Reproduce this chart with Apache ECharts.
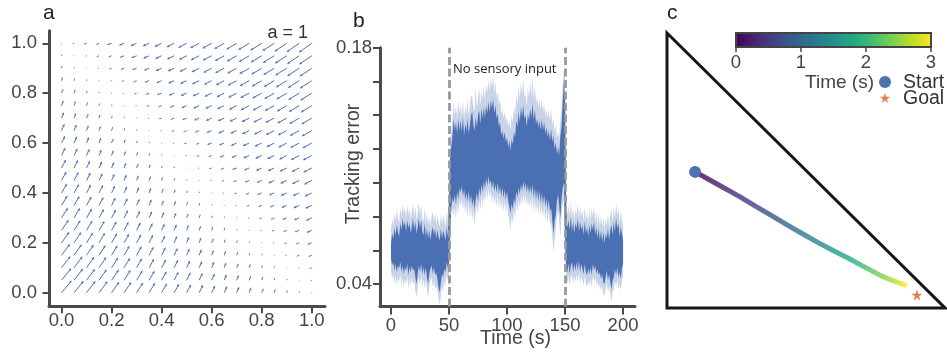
<!DOCTYPE html>
<html><head><meta charset="utf-8">
<script src="https://cdn.jsdelivr.net/npm/echarts@6/dist/echarts.min.js"></script>
<style>html,body{margin:0;padding:0;background:#fff}#c{width:947px;height:354px}</style>
</head><body><div id="c"></div>
<script>
// ---------- Panel a: quiver field (components in thousandths of axis units) ----------
const quiverX = [0,0.05,0.1,0.15,0.2,0.25,0.3,0.35,0.4,0.45,0.5,0.55,0.6,0.65,0.7,0.75,0.8,0.85,0.9,0.95,1];
const quiverY = [0,0.05,0.1,0.15,0.2,0.25,0.3,0.35,0.4,0.45,0.5,0.55,0.6,0.65,0.7,0.75,0.8,0.85,0.9,0.95,1];
const quiverU = [
[41,39,36,34,31,29,26,24,22,20,18,16,14,12,10,8,7,5,3,2,0],
[39,36,34,31,29,26,24,22,20,18,16,14,12,10,8,7,5,3,2,0,-6],
[36,34,31,29,26,24,22,20,18,16,14,12,10,8,7,5,3,2,0,-6,-11],
[34,31,29,26,24,22,20,18,16,14,12,10,8,7,5,3,2,0,-6,-11,-14],
[31,29,26,24,22,20,18,16,14,12,10,8,7,5,3,2,0,-6,-11,-14,-18],
[29,26,24,22,20,18,16,14,12,10,8,7,5,3,2,0,-6,-11,-14,-18,-21],
[26,24,22,20,18,16,14,12,10,8,7,5,3,2,0,-6,-11,-14,-18,-21,-24],
[24,22,20,18,16,14,12,10,8,7,5,3,2,0,-6,-11,-14,-18,-21,-24,-26],
[22,20,18,16,14,12,10,8,7,5,3,2,0,-6,-11,-14,-18,-21,-24,-26,-29],
[20,18,16,14,12,10,8,7,5,3,2,0,-6,-11,-14,-18,-21,-24,-26,-29,-31],
[18,16,14,12,10,8,7,5,3,2,0,-6,-11,-14,-18,-21,-24,-26,-29,-31,-34],
[16,14,12,10,8,7,5,3,2,0,-6,-11,-14,-18,-21,-24,-26,-29,-31,-34,-36],
[14,12,10,8,7,5,3,2,0,-6,-11,-14,-18,-21,-24,-26,-29,-31,-34,-36,-38],
[12,10,8,7,5,3,2,0,-6,-11,-14,-18,-21,-24,-26,-29,-31,-34,-36,-38,-40],
[10,8,7,5,3,2,0,-6,-11,-14,-18,-21,-24,-26,-29,-31,-34,-36,-38,-40,-42],
[8,7,5,3,2,0,-6,-11,-14,-18,-21,-24,-26,-29,-31,-34,-36,-38,-40,-42,-44],
[7,5,3,2,0,-6,-11,-14,-18,-21,-24,-26,-29,-31,-34,-36,-38,-40,-42,-44,-46],
[5,3,2,0,-6,-11,-14,-18,-21,-24,-26,-29,-31,-34,-36,-38,-40,-42,-44,-46,-48],
[3,2,0,-6,-11,-14,-18,-21,-24,-26,-29,-31,-34,-36,-38,-40,-42,-44,-46,-48,-49],
[2,0,-6,-11,-14,-18,-21,-24,-26,-29,-31,-34,-36,-38,-40,-42,-44,-46,-48,-49,-51],
[0,-6,-11,-14,-18,-21,-24,-26,-29,-31,-34,-36,-38,-40,-42,-44,-46,-48,-49,-51,-52]];
const quiverV = [
[49,48,47,46,44,43,41,40,38,36,34,32,29,27,24,21,18,15,11,7,0],
[48,47,46,44,43,41,40,38,36,34,32,29,27,24,21,18,15,11,7,0,-2],
[47,46,44,43,41,40,38,36,34,32,29,27,24,21,18,15,11,7,0,-2,-4],
[46,44,43,41,40,38,36,34,32,29,27,24,21,18,15,11,7,0,-2,-4,-6],
[44,43,41,40,38,36,34,32,29,27,24,21,18,15,11,7,0,-2,-4,-6,-7],
[43,41,40,38,36,34,32,29,27,24,21,18,15,11,7,0,-2,-4,-6,-7,-9],
[41,40,38,36,34,32,29,27,24,21,18,15,11,7,0,-2,-4,-6,-7,-9,-11],
[40,38,36,34,32,29,27,24,21,18,15,11,7,0,-2,-4,-6,-7,-9,-11,-12],
[38,36,34,32,29,27,24,21,18,15,11,7,0,-2,-4,-6,-7,-9,-11,-12,-14],
[36,34,32,29,27,24,21,18,15,11,7,0,-2,-4,-6,-7,-9,-11,-12,-14,-16],
[34,32,29,27,24,21,18,15,11,7,0,-2,-4,-6,-7,-9,-11,-12,-14,-16,-18],
[32,29,27,24,21,18,15,11,7,0,-2,-4,-6,-7,-9,-11,-12,-14,-16,-18,-19],
[29,27,24,21,18,15,11,7,0,-2,-4,-6,-7,-9,-11,-12,-14,-16,-18,-19,-21],
[27,24,21,18,15,11,7,0,-2,-4,-6,-7,-9,-11,-12,-14,-16,-18,-19,-21,-23],
[24,21,18,15,11,7,0,-2,-4,-6,-7,-9,-11,-12,-14,-16,-18,-19,-21,-23,-25],
[21,18,15,11,7,0,-2,-4,-6,-7,-9,-11,-12,-14,-16,-18,-19,-21,-23,-25,-27],
[18,15,11,7,0,-2,-4,-6,-7,-9,-11,-12,-14,-16,-18,-19,-21,-23,-25,-27,-29],
[15,11,7,0,-2,-4,-6,-7,-9,-11,-12,-14,-16,-18,-19,-21,-23,-25,-27,-29,-31],
[11,7,0,-2,-4,-6,-7,-9,-11,-12,-14,-16,-18,-19,-21,-23,-25,-27,-29,-31,-33],
[7,0,-2,-4,-6,-7,-9,-11,-12,-14,-16,-18,-19,-21,-23,-25,-27,-29,-31,-33,-35],
[0,-2,-4,-6,-7,-9,-11,-12,-14,-16,-18,-19,-21,-23,-25,-27,-29,-31,-33,-35,-37]];
const ticksA = [0,0.2,0.4,0.6,0.8,1.0];

// ---------- Panel b: tracking error (thousandths), one sample per second 0..200 ----------
const timeTicks = [0,50,100,150,200];
const errorTicks = [0.04,0.06,0.08,0.10,0.12,0.14,0.16,0.18];
const errorLabels = [0.04,0.18];
const switchTimes = [50,150];
const darkHi = [64,70,67,73,69,75,71,68,76,72,79,74,77,71,78,73,76,70,74,79,72,77,70,74,79,73,78,71,69,76,68,73,67,72,66,71,74,69,73,67,72,68,66,73,67,72,69,66,74,68,
90,118,121,128,138,131,136,129,138,131,137,130,139,128,135,131,138,129,134,140,142,134,131,139,133,140,143,135,144,138,145,138,146,141,148,142,149,144,150,141,
146,138,141,133,136,128,131,126,130,124,127,121,125,119,126,123,130,127,137,133,142,136,145,139,146,138,140,133,141,137,144,139,147,137,143,135,138,133,137,131,
138,131,136,129,133,127,131,125,132,124,128,120,124,117,121,116,128,133,147,160,150,84,73,78,72,80,71,77,70,76,73,79,71,77,72,75,69,77,70,74,
68,75,70,76,72,77,69,74,67,73,66,72,65,71,64,70,67,73,66,72,75,69,77,71,79,73,76,68,74,70,66];
const darkLo = [55,51,53,48,52,47,51,49,53,47,51,46,50,48,52,45,50,47,51,48,49,44,40,46,51,47,52,46,50,45,50,44,40,46,49,51,46,50,45,47,43,38,35,41,46,44,49,47,53,49,
52,70,86,91,88,93,87,95,90,97,94,98,92,96,90,94,89,95,88,93,86,91,84,90,94,89,97,92,99,94,101,96,103,98,104,99,102,96,101,95,
99,94,100,93,98,92,97,91,96,90,95,89,86,82,88,84,91,87,95,91,97,93,99,95,101,96,100,94,99,93,98,93,99,91,97,90,96,89,95,88,
94,87,93,86,91,84,90,83,85,78,70,77,81,89,93,86,79,91,97,100,68,50,47,52,46,51,53,47,52,48,53,48,54,47,52,49,46,52,47,45,
49,46,50,45,52,48,51,46,49,45,47,43,46,41,40,44,48,42,46,41,37,42,44,49,45,50,44,47,43,49,52];
const bandHi = [72,79,75,82,77,84,79,76,85,81,87,82,86,79,87,81,85,78,83,88,80,86,78,83,88,81,87,79,77,85,76,82,75,80,74,80,83,77,82,75,80,77,74,82,75,81,78,74,83,77,
98,126,130,137,148,140,146,138,149,141,146,139,149,138,145,141,150,139,146,152,151,145,142,157,144,150,156,146,155,149,157,149,158,153,161,154,162,156,164,153,
160,150,154,146,150,140,144,138,142,136,139,133,137,131,140,136,145,140,152,146,157,149,160,152,162,150,153,145,156,150,160,151,163,149,157,147,151,145,149,143,
150,142,147,139,144,138,143,136,144,134,138,130,134,126,131,125,138,144,157,167,165,93,81,87,80,89,79,85,78,84,81,88,79,86,80,84,77,86,78,83,
76,84,78,85,80,86,77,83,75,82,74,81,73,80,72,79,75,82,74,81,84,77,86,79,88,81,84,76,83,78,74];
const bandLo = [48,43,46,40,45,39,44,41,46,39,44,38,43,40,45,37,43,39,44,40,42,36,32,38,44,39,45,38,43,37,43,36,32,38,42,44,38,43,37,39,36,31,28,33,39,36,42,39,46,42,
46,62,82,85,80,86,78,88,82,90,86,91,84,89,82,87,80,88,79,86,78,84,75,82,87,81,90,84,92,86,94,88,96,90,97,91,95,88,94,87,
92,86,93,85,91,84,90,83,89,82,88,81,78,72,80,76,84,79,88,83,90,85,92,87,94,88,93,86,92,85,91,85,92,83,90,82,89,81,88,80,
87,79,86,78,84,76,83,75,77,68,59,66,72,80,84,76,68,81,88,90,60,44,40,45,39,44,46,40,45,41,46,41,47,40,45,42,39,45,40,38,
42,39,43,38,45,41,44,39,42,38,40,36,39,34,33,37,41,35,39,34,30,35,37,42,38,43,37,40,36,42,45];
const timeS = darkHi.map((_, i) => i);

// ---------- Panel c: trajectory in the simplex ----------
const trajT = [0,0.2,0.4,0.6,0.8,1.0,1.2,1.4,1.6,1.8,2.0,2.2,2.4,2.6,2.8,3.0];
const trajX = [0.101,0.180,0.263,0.324,0.378,0.432,0.489,0.547,0.601,0.651,0.698,0.737,0.773,0.806,0.835,0.856];
const trajY = [0.495,0.451,0.404,0.367,0.335,0.302,0.269,0.236,0.207,0.182,0.156,0.135,0.116,0.102,0.091,0.084];
const startPt = [0.101,0.495];
const goalPt = [0.899,0.047];
const simplexVerts = [[0,1],[0,0],[1,0]];
const cbarTicks = [0,1,2,3];

// ---------- styles ----------
const FONT = "'Liberation Sans', Arial, sans-serif";
const AX = '#4a4a4a', TXT = '#444';
const BLUE = '#4c72b0', ORANGE = '#dd8452';
const viridis = ['#440154','#482475','#414487','#355f8d','#2a788e','#21918c','#22a884','#44bf70','#7ad151','#bddf26','#fde725'];
function hex(c){return [parseInt(c.slice(1,3),16),parseInt(c.slice(3,5),16),parseInt(c.slice(5,7),16)];}
function viridisAt(f){
  f = Math.max(0, Math.min(1, f));
  const n = viridis.length - 1, p = f * n, i = Math.min(n - 1, Math.floor(p)), r = p - i;
  const a = hex(viridis[i]), b = hex(viridis[i + 1]);
  return 'rgb(' + a.map((v, k) => Math.round(v + (b[k] - v) * r)).join(',') + ')';
}
const STAR_PTS = [[0,-1],[0.2245,-0.309],[0.951,-0.309],[0.363,0.118],[0.588,0.809],[0,0.382],[-0.588,0.809],[-0.363,0.118],[-0.951,-0.309],[-0.2245,-0.309]];
const STAR = 'M' + STAR_PTS.map(p => p.join(',')).join('L') + 'Z';

const quiverData = [];
quiverY.forEach((y, j) => quiverX.forEach((x, i) => quiverData.push([x, y, quiverU[j][i] / 1000, quiverV[j][i] / 1000])));

function renderQuiver(params, api){
  const x = api.value(0), y = api.value(1), u = api.value(2), v = api.value(3);
  const p0 = api.coord([x, y]), p1 = api.coord([x + u, y + v]);
  const dx = p1[0] - p0[0], dy = p1[1] - p0[1], len = Math.hypot(dx, dy);
  if (len < 1.4) return {type:'circle', shape:{cx:p0[0], cy:p0[1], r:0.6}, style:{fill:BLUE, opacity:0.6}};
  const ux = dx / len, uy = dy / len;
  const hl = Math.min(3, len * 0.45), hw = Math.min(1.3, len * 0.2);
  const bx = p1[0] - ux * hl, by = p1[1] - uy * hl;
  return {type:'group', children:[
    {type:'line', shape:{x1:p0[0], y1:p0[1], x2:bx, y2:by}, style:{stroke:BLUE, lineWidth:1}},
    {type:'polygon', shape:{points:[[p1[0], p1[1]], [bx - uy * hw, by + ux * hw], [bx + uy * hw, by - ux * hw]]}, style:{fill:BLUE}}
  ]};
}
function renderBands(params, api){
  if (params.dataIndex !== 0) return;
  const poly = (hi, lo) => {
    const up = timeS.map((t, i) => api.coord([t, hi[i] / 1000]));
    const dn = timeS.map((t, i) => api.coord([t, lo[i] / 1000])).reverse();
    return up.concat(dn);
  };
  return {type:'group', children:[
    {type:'polygon', shape:{points:poly(bandHi, bandLo)}, style:{fill:'#c8d3e7'}},
    {type:'polygon', shape:{points:poly(darkHi, darkLo)}, style:{fill:'#4a6fb3'}}
  ]};
}
function renderSimplex(params, api){
  if (params.dataIndex !== 0) return;
  const pts = simplexVerts.map(p => api.coord(p));
  return {type:'polygon', shape:{points:pts}, style:{fill:'none', stroke:'#161616', lineWidth:3, lineJoin:'miter'}};
}
function renderTraj(params, api){
  if (params.dataIndex !== 0) return;
  const pts = trajX.map((x, i) => api.coord([x, trajY[i]]));
  const a = pts[0], b = pts[pts.length - 1];
  const vx = b[0] - a[0], vy = b[1] - a[1], L2 = vx * vx + vy * vy;
  const stops = pts.map((p, i) => ({offset: Math.max(0, Math.min(1, ((p[0] - a[0]) * vx + (p[1] - a[1]) * vy) / L2)), color: viridisAt(trajT[i] / 3)}));
  return {type:'polyline', shape:{points:pts}, style:{fill:'none', stroke:new echarts.graphic.LinearGradient(a[0], a[1], b[0], b[1], stops, true), lineWidth:5, lineCap:'round', lineJoin:'round', opacity:0.8}};
}
function renderCbar(params, api){
  if (params.dataIndex !== 0) return;
  const p0 = api.coord([0, 1]), p1 = api.coord([3, 0]);
  return {type:'rect', shape:{x:p0[0], y:p0[1], width:p1[0] - p0[0], height:p1[1] - p0[1]},
    style:{fill:new echarts.graphic.LinearGradient(0, 0, 1, 0, viridis.map((c, i) => ({offset:i / (viridis.length - 1), color:c}))), stroke:'#444', lineWidth:2}};
}

const hidden = {show:false};
function valAxis(o){
  return Object.assign({type:'value', splitLine:hidden, axisLine:{show:true, onZero:false, lineStyle:{color:AX, width:3}},
    axisTick:{show:true, length:7, lineStyle:{color:AX, width:2}},
    axisLabel:{fontSize:18.5, color:TXT, fontFamily:FONT}}, o);
}

const chart = echarts.init(document.getElementById('c'), null, {renderer:'canvas'});
chart.setOption({
  animation:false,
  backgroundColor:'#fff',
  grid:[
    {left:49, top:30.7, width:276, height:275.6, outerBoundsMode:'none'},
    {left:380, top:47.7, width:255, height:258.8, outerBoundsMode:'none'},
    {left:667, top:33, width:278, height:275, outerBoundsMode:'none'},
    {left:736, top:33, width:195, height:14, outerBoundsMode:'none'}
  ],
  xAxis:[
    valAxis({gridIndex:0, min:-0.05, max:1.053, axisTick:{show:true, length:7, customValues:ticksA, lineStyle:{color:AX, width:2}},
      axisLabel:{customValues:ticksA, formatter:v => Number(v).toFixed(1), fontSize:18.5, color:TXT, fontFamily:FONT, margin:5}}),
    valAxis({gridIndex:1, min:-9.48, max:210.3, axisTick:{show:true, length:8, customValues:timeTicks, lineStyle:{color:AX, width:2}},
      axisLabel:{customValues:timeTicks, fontSize:18.5, color:TXT, fontFamily:FONT, margin:10}}),
    {type:'value', gridIndex:2, min:0, max:1, show:false},
    {type:'value', gridIndex:3, min:0, max:3, interval:1, splitLine:hidden, axisLine:{show:false},
      axisTick:{show:true, length:5, lineStyle:{color:'#444', width:1.5}},
      axisLabel:{fontSize:18.5, color:TXT, fontFamily:FONT, margin:6},
      name:'Time (s)', nameLocation:'middle', nameGap:21, nameTextStyle:{fontSize:19, color:TXT, fontFamily:FONT, padding:[0,0,0,12]}}
  ],
  yAxis:[
    valAxis({gridIndex:0, min:-0.0545, max:1.0505, axisTick:{show:true, length:6.5, customValues:ticksA, lineStyle:{color:AX, width:2}},
      axisLabel:{customValues:ticksA, formatter:v => Number(v).toFixed(1), fontSize:18.5, color:TXT, fontFamily:FONT, margin:12}}),
    valAxis({gridIndex:1, min:0.0267, max:0.18, axisTick:{show:true, length:7, customValues:errorTicks, lineStyle:{color:AX, width:2}},
      axisLabel:{customValues:errorLabels, formatter:v => Number(v).toFixed(2), fontSize:18.5, color:TXT, fontFamily:FONT, margin:8}}),
    {type:'value', gridIndex:2, min:0, max:1, show:false},
    {type:'value', gridIndex:3, min:0, max:1, show:false}
  ],
  series:[
    {type:'custom', xAxisIndex:0, yAxisIndex:0, data:quiverData, renderItem:renderQuiver, silent:true},
    {type:'custom', xAxisIndex:1, yAxisIndex:1, data:timeS.map((t, i) => [t, darkHi[i] / 1000]), renderItem:renderBands, silent:true,
      markLine:{symbol:'none', silent:true, label:{show:false}, lineStyle:{color:'#999', width:2.8, type:[8,3.5]},
        data:switchTimes.map(t => ({xAxis:t}))}},
    {type:'custom', xAxisIndex:2, yAxisIndex:2, data:simplexVerts, renderItem:renderSimplex, silent:true},
    {type:'custom', xAxisIndex:2, yAxisIndex:2, data:trajX.map((x, i) => [x, trajY[i], trajT[i]]), renderItem:renderTraj, silent:true},
    {type:'scatter', name:'Start', xAxisIndex:2, yAxisIndex:2, data:[startPt], symbol:'circle', symbolSize:12, itemStyle:{color:BLUE, opacity:1}, silent:true},
    {type:'scatter', name:'Goal', xAxisIndex:2, yAxisIndex:2, data:[goalPt], symbol:'path://' + STAR, symbolSize:11, itemStyle:{color:ORANGE, opacity:1}, silent:true},
    {type:'custom', xAxisIndex:3, yAxisIndex:3, data:[[0, 0]], renderItem:renderCbar, silent:true}
  ],
  graphic:[
    {type:'text', x:43, y:13.5, style:{text:'a', fontSize:21, fontFamily:FONT, fill:'#222', align:'left', verticalAlign:'middle'}},
    {type:'text', x:353, y:21, style:{text:'b', fontSize:21, fontFamily:FONT, fill:'#222', align:'left', verticalAlign:'middle'}},
    {type:'text', x:667, y:13.5, style:{text:'c', fontSize:21, fontFamily:FONT, fill:'#222', align:'left', verticalAlign:'middle'}},
    {type:'text', x:308, y:33, style:{text:'a = 1', fontSize:18, fontFamily:FONT, fill:'#333', align:'right', verticalAlign:'middle'}},
    {type:'text', x:453, y:69.5, style:{text:'No sensory input', fontSize:13, fontFamily:"'Open Sans', sans-serif", fill:'#222', align:'left', verticalAlign:'middle'}},
    {type:'text', x:354, y:164, rotation:Math.PI / 2, style:{text:'Tracking error', fontSize:19.5, fontFamily:FONT, fill:TXT, align:'center', verticalAlign:'middle'}},
    {type:'text', x:515.5, y:339, style:{text:'Time (s)', fontSize:19.5, fontFamily:FONT, fill:TXT, align:'center', verticalAlign:'middle'}},
    {type:'circle', shape:{cx:885, cy:82, r:6}, style:{fill:BLUE}},
    {type:'polygon', shape:{points:STAR_PTS.map(p => [885 + p[0] * 5.5, 98.5 + p[1] * 5.5])}, style:{fill:ORANGE}},
    {type:'text', x:903, y:82.5, style:{text:'Start', fontSize:19.5, fontFamily:FONT, fill:'#333', align:'left', verticalAlign:'middle'}},
    {type:'text', x:903, y:99, style:{text:'Goal', fontSize:19.5, fontFamily:FONT, fill:'#333', align:'left', verticalAlign:'middle'}}
  ]
});
</script></body></html>
